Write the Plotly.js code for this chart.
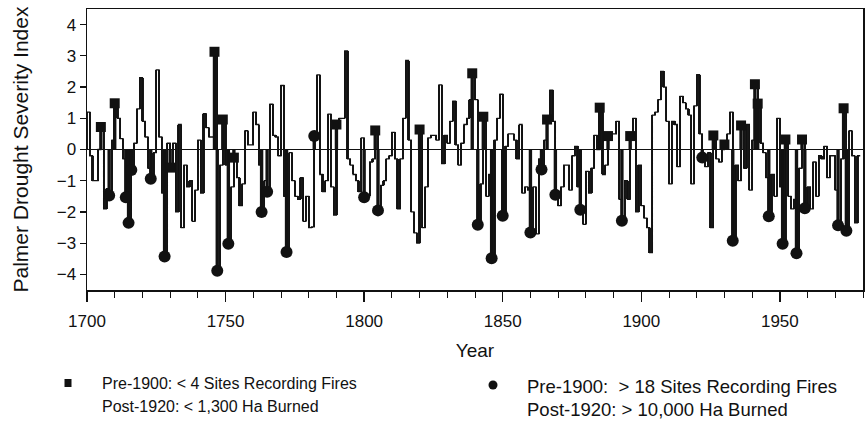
<!DOCTYPE html>
<html>
<head>
<meta charset="utf-8">
<script src="https://cdn.plot.ly/plotly-3.0.1.min.js"></script>
<style>html,body{margin:0;padding:0;background:#fff}#chart{width:866px;height:425px}</style>
</head>
<body>
<div id="chart"></div>
<script>
// Reconstructed annual Palmer Drought Severity Index, 1700-1979
var startYear = 1700;
var pdsi = [
  1.2, -0.2, -1.0, -1.0, 0.0, 0.72, -1.9, -1.25, -1.47, 0.3,      // 1700s
  1.48, 1.0, 0.35, -0.3, -1.53, -2.35, -0.66, 0.2, 1.3, 2.3,      // 1710s
  0.9, 0.4, -0.6, -0.94, -0.1, 2.55, 0.4, -1.4, -3.43, 0.2,       // 1720s
  -0.58, 0.2, -2.0, 0.8, -2.5, -0.5, -1.2, -1.0, -2.3, -1.3,      // 1730s
  0.3, -1.4, 1.15, 0.7, 0.4, 0.4, 3.13, -3.88, -0.5, 0.96,        // 1740s
  -0.5, -3.02, -1.2, -0.26, -0.9, -1.8, -1.1, 0.6, 0.15, 0.15,    // 1750s
  1.2, 0.8, -0.5, -2.0, -1.0, -1.35, 1.45, 0.45, 0.4, -0.2,       // 1760s
  2.05, -1.5, -3.28, -0.1, -1.0, -1.5, -1.6, -0.9, -2.3, -1.5,    // 1770s
  -2.5, -2.48, 0.43, 2.39, -0.8, -1.35, -1.0, 1.13, -1.2, -2.1,   // 1780s
  0.8, 1.0, 1.0, 3.16, -0.3, -0.5, -0.8, -1.0, -1.35, 0.37,       // 1790s
  -1.53, -1.5, -0.4, -0.3, 0.61, -1.95, -1.15, -1.0, -0.3, -0.2,  // 1800s
  0.55, -0.3, -1.9, -0.3, 1.0, 2.85, 0.3, -2.0, -2.67, -3.0,      // 1810s
  0.64, -2.5, -1.2, 0.37, 0.45, 0.45, 0.3, 2.07, -0.45, 0.45,     // 1820s
  0.2, 0.9, 1.55, 0.15, -0.5, 0.2, 0.8, 1.0, 1.6, 2.44,           // 1830s
  1.6, -2.41, -1.1, 1.05, -1.5, -0.8, -3.48, 0.3, 1.0, 1.77,      // 1840s
  -2.12, 0.1, 0.5, 0.5, 0.3, -0.3, 0.8, -1.4, -1.2, -1.3,         // 1850s
  -2.66, -1.2, -2.7, -0.3, -0.64, 0.3, 0.96, 1.9, 0.9, -1.45,     // 1860s
  -1.8, -1.2, -0.5, -0.5, -1.3, -0.2, 0.1, -1.2, -1.93, -2.4,     // 1870s
  -0.7, -1.4, -0.6, 0.45, 0.0, 1.34, -0.8, -0.5, 0.43, 0.5,       // 1880s
  0.5, 0.9, -1.6, -2.28, -1.0, -1.6, 0.43, 1.0, -2.0, -0.5,       // 1890s
  -1.8, -2.2, -2.5, -3.3, 1.1, 1.2, 1.6, 2.5, 2.0, 0.9,           // 1900s
  -1.1, 0.9, 0.8, -0.55, 1.7, 1.5, 1.3, 1.1, -1.1, 1.4,           // 1910s
  2.4, 0.5, -0.26, -0.55, -0.1, -2.5, 0.45, -0.3, -0.4, 0.0,      // 1920s
  0.16, 0.5, 1.2, -2.92, -0.5, -1.0, 0.77, -0.6, 0.8, -1.3,       // 1930s
  0.3, 2.09, 1.47, 0.2, -0.1, -0.9, -2.14, -0.8, -1.5, 1.0,       // 1940s
  -1.2, -3.02, 0.32, -1.5, -1.9, -1.6, -3.32, -0.6, 0.32, -1.88,  // 1950s
  -1.2, -1.9, -0.4, -1.5, -0.2, -0.3, 0.1, -0.9, -0.2, -0.2,      // 1960s
  -1.3, -2.43, -0.3, 1.32, -2.6, 0.6, -0.2, -2.35, -0.2, -0.2     // 1970s
];
// Fire years (markers)
var lowFireYears = [1705,1710,1730,1746,1749,1753,1790,1804,1820,1839,1843,1866,1885,1888,1896,1926,1930,1936,1941,1942,1952,1958,1973];
var highFireYears = [1708,1714,1715,1716,1723,1728,1747,1751,1763,1765,1772,1782,1800,1805,1841,1846,1850,1860,1864,1869,1878,1893,1922,1933,1946,1951,1956,1959,1971,1974];

var xTickVals = [1700,1750,1800,1850,1900,1950];
var yTickVals = [-4,-3,-2,-1,0,1,2,3,4];

var lowLabelLines = ['Pre-1900: < 4 Sites Recording Fires', 'Post-1920: < 1,300 Ha Burned'];
var highLabelLines = ['Pre-1900:&nbsp; > 18 Sites Recording Fires', 'Post-1920: > 10,000 Ha Burned'];

// ---- derived structures ----
var years = pdsi.map(function(_, i){ return startYear + i; });
var prev = pdsi.map(function(v, i){ return i === 0 ? 0 : pdsi[i-1]; });
var diff = pdsi.map(function(v, i){ return v - prev[i]; });
function valOf(yr){ return pdsi[yr - startYear]; }
function stems(list){
  var xs = [], ys = [];
  list.forEach(function(yr){ xs.push(yr, yr, null); ys.push(0, valOf(yr), null); });
  return {x: xs, y: ys};
}
var lowStem = stems(lowFireYears), highStem = stems(highFireYears);

var FONT = 'Liberation Sans, Arial, sans-serif';
var INK = '#111';

var traces = [
  { type: 'scatter', mode: 'lines', x: years, y: pdsi,
    line: {shape: 'hv', color: INK, width: 1.3}, showlegend: false, hoverinfo: 'skip' },
  { type: 'bar', x: years, y: diff, base: prev, width: 0.8,
    marker: {color: '#1a1a1a', line: {width: 0}}, showlegend: false, hoverinfo: 'skip' },
  { type: 'scatter', mode: 'lines', x: lowStem.x, y: lowStem.y,
    line: {color: INK, width: 3.4}, showlegend: false, hoverinfo: 'skip' },
  { type: 'scatter', mode: 'lines', x: highStem.x, y: highStem.y,
    line: {color: INK, width: 3.4}, showlegend: false, hoverinfo: 'skip' },
  { type: 'scatter', mode: 'markers', x: lowFireYears, y: lowFireYears.map(valOf),
    marker: {symbol: 'square', size: 10, color: INK}, showlegend: false, hoverinfo: 'skip' },
  { type: 'scatter', mode: 'markers', x: highFireYears, y: highFireYears.map(valOf),
    marker: {symbol: 'circle', size: 12, color: INK}, showlegend: false, hoverinfo: 'skip' }
];

function pxX(px){ return (px - 87) / 776; }
function pxY(py){ return (290 - py) / 281; }
function legendText(txt, px, py, size){
  return {text: txt, xref: 'paper', yref: 'paper', x: pxX(px), y: pxY(py),
          xanchor: 'left', yanchor: 'middle', showarrow: false,
          font: {size: size, family: FONT, color: INK}};
}

var layout = {
  width: 866, height: 425,
  margin: {l: 87, r: 3, t: 9, b: 135},
  paper_bgcolor: '#fff', plot_bgcolor: '#fff',
  font: {family: FONT, color: INK, size: 17},
  bargap: 0, showlegend: false,
  xaxis: {
    range: [1700, 1980], tickmode: 'array', tickvals: xTickVals,
    ticks: 'outside', ticklen: 10, tickwidth: 1.3, tickcolor: INK,
    minor: {dtick: 10, tick0: 1700, ticks: 'outside', ticklen: 6, tickwidth: 1, tickcolor: INK},
    showline: true, linecolor: INK, linewidth: 1.5, mirror: true,
    showgrid: false, zeroline: false, automargin: false,
    tickfont: {size: 17, family: FONT}, ticklabelstandoff: 5,
    title: {text: 'Year', font: {size: 19, family: FONT}, standoff: 14}
  },
  yaxis: {
    range: [-4.5, 4.5], tickmode: 'array', tickvals: yTickVals,
    ticks: 'outside', ticklen: 6, tickwidth: 1.3, tickcolor: INK,
    showline: true, linecolor: INK, linewidth: 1.5, mirror: true,
    showgrid: false, zeroline: true, zerolinecolor: INK, zerolinewidth: 1.5,
    automargin: false,
    tickfont: {size: 17, family: FONT},
    title: {text: 'Palmer Drought Severity Index', font: {size: 21, family: FONT}, standoff: 22}
  },
  shapes: [
    {type: 'rect', xref: 'paper', yref: 'paper', xsizemode: 'pixel', ysizemode: 'pixel',
     xanchor: pxX(68), yanchor: pxY(383), x0: -3.5, x1: 3.5, y0: -4, y1: 4,
     fillcolor: INK, line: {width: 0}},
    {type: 'circle', xref: 'paper', yref: 'paper', xsizemode: 'pixel', ysizemode: 'pixel',
     xanchor: pxX(493), yanchor: pxY(385), x0: -4.5, x1: 4.5, y0: -4.5, y1: 4.5,
     fillcolor: INK, line: {width: 0}}
  ],
  annotations: [
    legendText(lowLabelLines[0], 100, 383, 16),
    legendText(lowLabelLines[1], 100, 406, 16),
    legendText(highLabelLines[0], 525, 386, 18.5),
    legendText(highLabelLines[1], 525, 409, 18.5)
  ]
};

Plotly.newPlot('chart', traces, layout, {displayModeBar: false, staticPlot: true});
</script>
</body>
</html>
